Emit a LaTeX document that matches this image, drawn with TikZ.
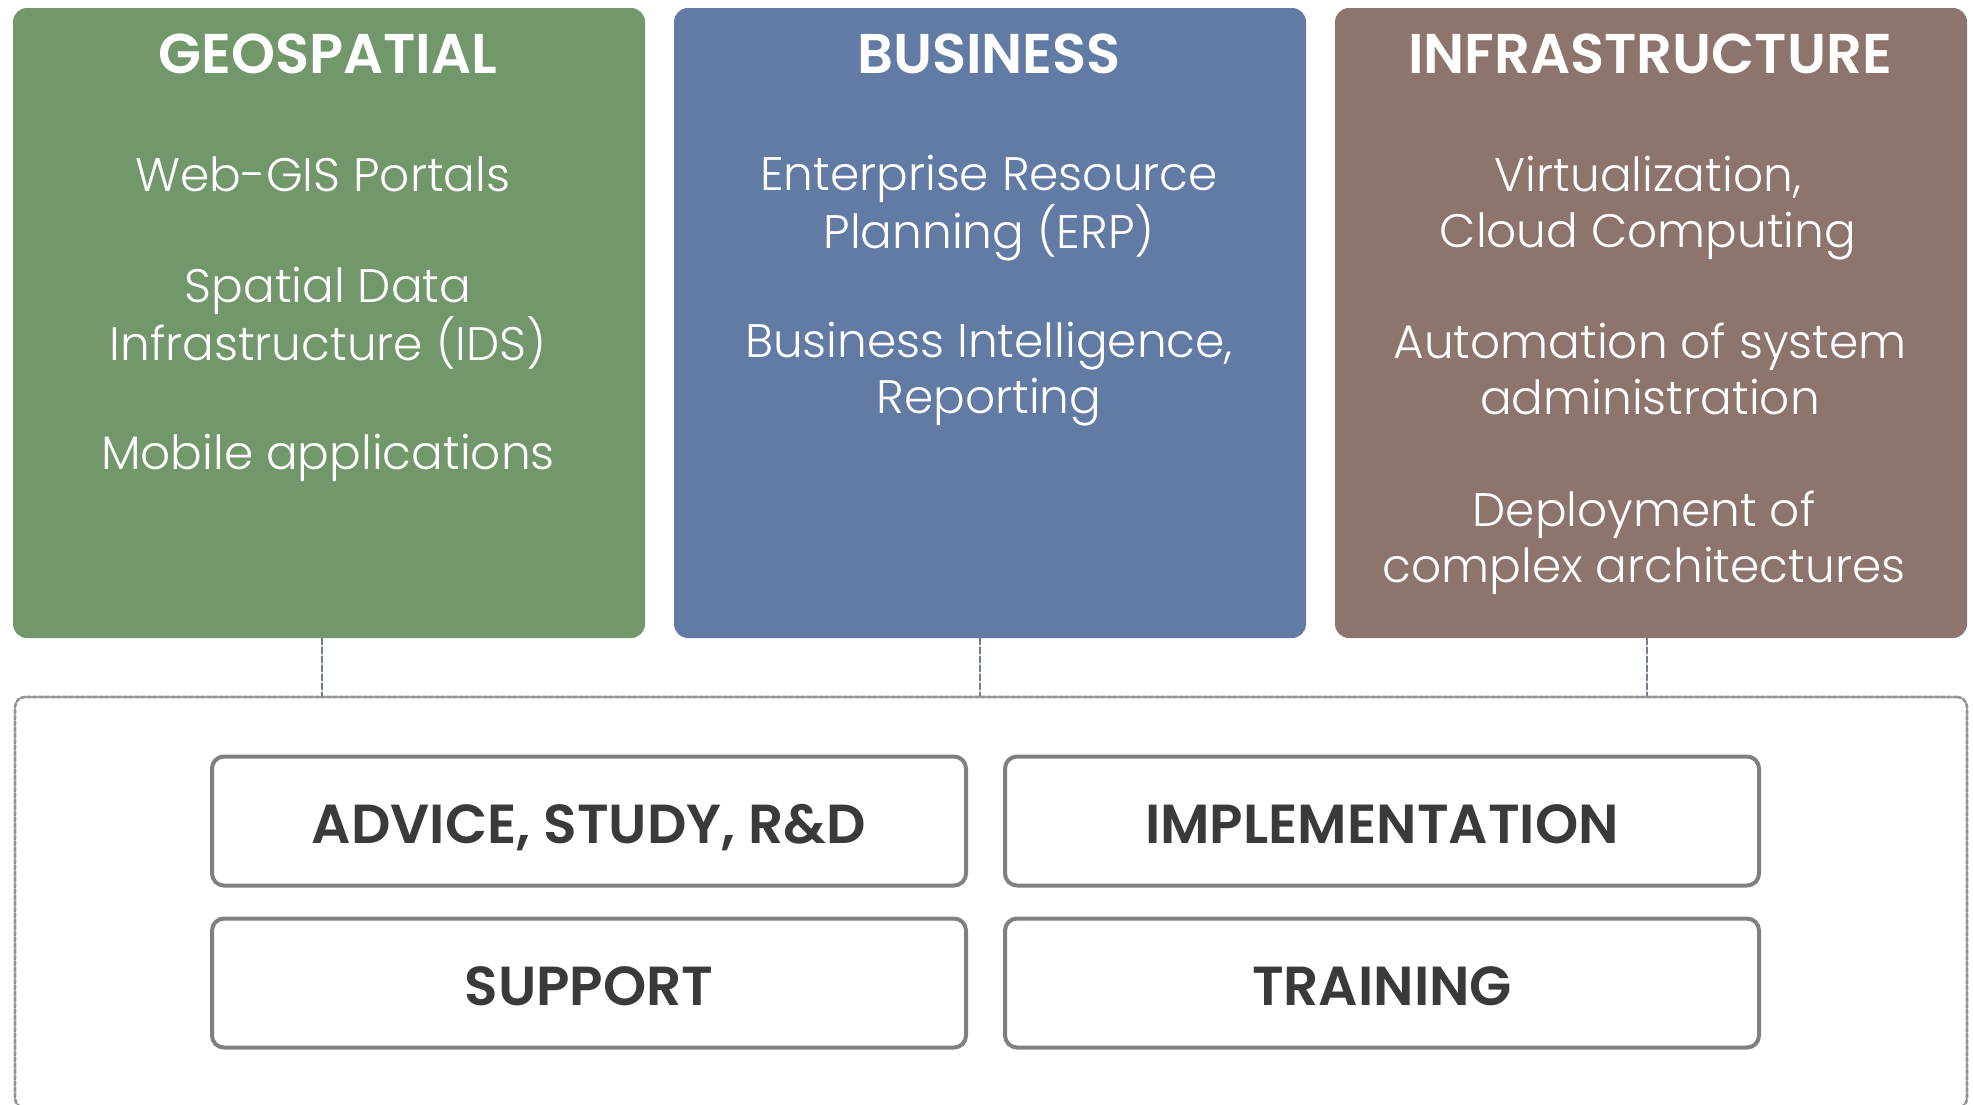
\documentclass[tikz,border=0pt]{standalone}
\usepackage{fontspec}
\IfFontExistsTF{Poppins Light}
  {\setmainfont{Poppins}[UprightFont=* Light, BoldFont=* SemiBold]}
  {\setmainfont{Poppins}}
\definecolor{geo}{RGB}{114,151,107}
\definecolor{biz}{RGB}{98,123,164}
\definecolor{infra}{RGB}{141,116,108}
\definecolor{frame}{RGB}{128,128,128}
\definecolor{ink}{RGB}{58,58,58}
\definecolor{linkgray}{RGB}{115,126,140}
\tikzset{
  area/.style={rounded corners=7pt, minimum width=316pt, minimum height=315pt, inner sep=0pt},
  head/.style={text=white, font=\bfseries\fontsize{28}{28}\selectfont},
  item/.style={text=white, align=center, font=\fontsize{23.5}{28}\selectfont},
  svcbox/.style={draw=frame, line width=2pt, rounded corners=6pt, minimum width=377pt,
    minimum height=64.5pt, text height=22pt, text depth=0pt, text=ink,
    font=\bfseries\fontsize{27.5}{28}\selectfont},
  link/.style={draw=linkgray, line width=1.2pt, dash pattern=on 3pt off 1.5pt}
}
\begin{document}
\begin{tikzpicture}[x=0.5pt, y=-0.5pt, line join=round, line cap=round]
  \useasboundingbox (0,0) rectangle (1973,1104);
  % the three fields
  \node[area, fill=geo] (geo) at (329,323) {};
  \node[area, fill=biz] (biz) at (990,323) {};
  \node[area, fill=infra] (infra) at (1651,323) {};

  \node[head] (geoT) at (328,54) {GEOSPATIAL};
  \node[head] (bizT) at (989,54) {BUSINESS};
  \node[head] (infraT) at (1650,54) {INFRASTRUCTURE};

  \node[item] (webgis) at (323,174) {Web-GIS Portals};
  \node[item] (sdi) at (328,318) {Spatial Data\\Infrastructure (IDS)};
  \node[item] (mobile) at (328,458) {Mobile applications};

  \node[item] (erp) at (989,208) {Enterprise Resource\\Planning (ERP)};
  \node[item] (bi) at (989,374) {Business Intelligence,\\Reporting};

  \node[item] (cloud) at (1648,208) {Virtualization,\\Cloud Computing};
  \node[item] (auto) at (1650,369) {Automation of system\\administration};
  \node[item] (deploy) at (1644,543) {Deployment of\\complex architectures};

  % services
  \node[draw=gray!85, line width=1.3pt, dash pattern=on 2pt off 1pt, rounded corners=5pt,
    minimum width=976pt, minimum height=205.5pt] (svc) at (991,902.5) {};
  \foreach \f/\s in {geo/-3.5pt, biz/-5pt, infra/-2pt}
    \draw[link] ([xshift=\s]\f.south) -- ([xshift=\s]\f.south |- svc.north);

  \node[svcbox] (advice) at (589,821) {ADVICE, STUDY, R\&D};
  \node[svcbox] (impl) at (1382,821) {IMPLEMENTATION};
  \node[svcbox] (support) at (589,983) {SUPPORT};
  \node[svcbox] (train) at (1382,983) {TRAINING};
\end{tikzpicture}
\end{document}
